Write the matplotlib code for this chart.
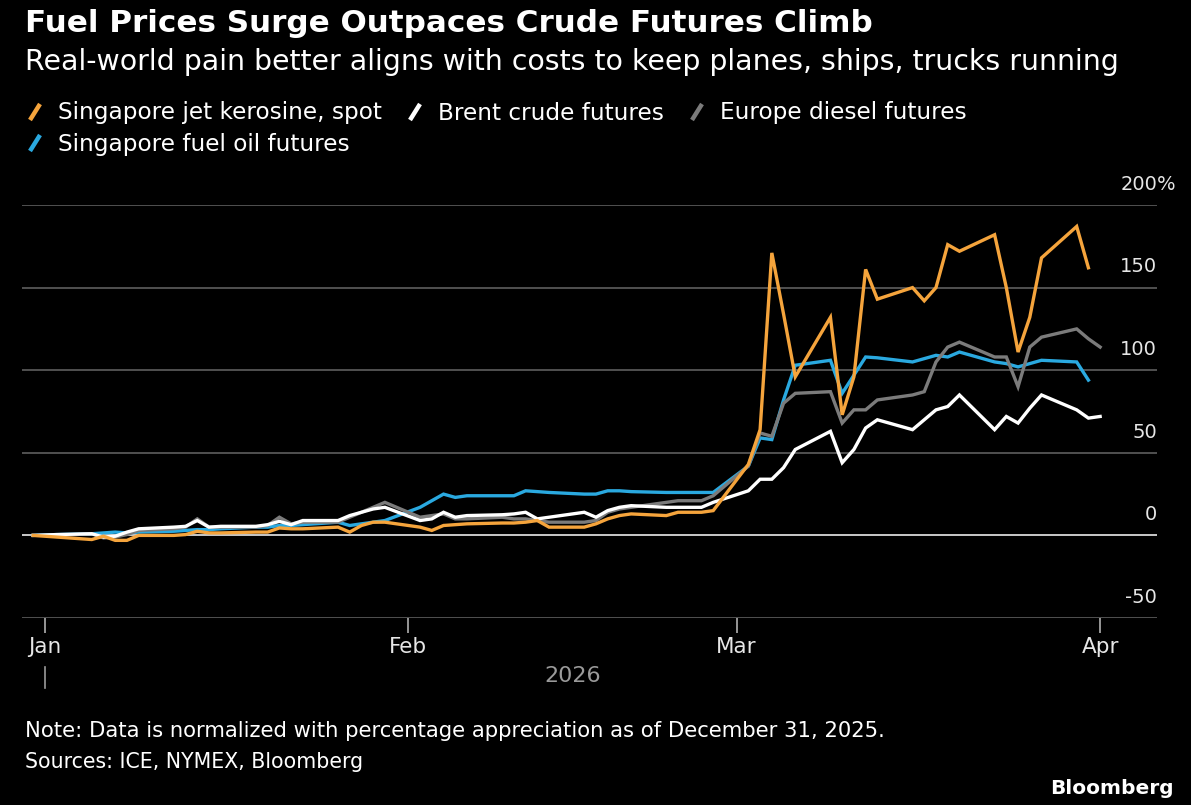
import numpy as np
import pandas as pd
import matplotlib
matplotlib.use("Agg")
import matplotlib.pyplot as plt
import matplotlib.dates as mdates
from matplotlib.lines import Line2D

#%% data (percent change since Dec 31, 2025)

dates = pd.bdate_range("2025-12-31", "2026-04-01")
dates = dates[dates != pd.Timestamp("2026-01-01")]

jet_jan = [-1, -2.5, -0.5, -3, -3, 0, 0, 0.5, 2.5, 1.5, 1.5, 2, 2, 4.5, 4, 4, 5, 2, 6, 8, 8]
jet_feb = [5, 3, 6, 6.5, 7, 7.5, 7.5, 8, 9, 5, 5, 7, 10, 12, 13, 12, 14, 14, 14, 15]
jet_mar = [43, 64, 171, 134, 96, 132, 73, 96, 161, 143, 150, 142, 150, 176, 172,
           182, 150, 111, 132, 168, 187, 162]
jet = [0] + jet_jan + jet_feb + jet_mar + [np.nan]

brent_jan = [0.5, 1, -1, -0.5, 2, 4, 5, 5.5, 9, 5, 5.5, 5.5, 6.5, 8.5, 6.5, 9, 9, 12, 14, 16, 17]
brent_feb = [9, 10, 14, 11, 12, 12.5, 13, 14, 10, 11, 14, 11, 15, 17, 18, 17, 17, 17, 17, 20]
brent_mar = [27, 34, 34, 41, 52, 63, 44, 52, 65, 70, 64, 70, 76, 78, 85,
             64, 72, 68, 77, 85, 76, 71]
brent = [0] + brent_jan + brent_feb + brent_mar + [72]

diesel_jan = [0, 1, -1.5, -1, 0.5, 3, 4, 5, 10, 5, 5, 5, 6, 11, 7, 8, 8, 11, 14, 17, 20]
diesel_feb = [11, 12, 13, 10, 10, 11, 10, 10, 9, 8, 8, 9, 14, 16, 17, 20, 21, 21, 21, 24]
diesel_mar = [42, 62, 60, 80, 86, 87, 68, 76, 76, 82, 85, 87, 105, 114, 117,
              108, 108, 90, 114, 120, 125, 119]
diesel = [0] + diesel_jan + diesel_feb + diesel_mar + [114]

fuel_jan = [0.5, 1, 1.5, 2, 1.5, 2, 2.5, 3, 3.5, 3.5, 4, 5, 5, 6, 6, 6.5, 8, 6, 7, 8, 9]
fuel_feb = [17, 21, 25, 23, 24, 24, 24, 27, 26.5, 26, 25, 25, 27, 27, 26.5, 26, 26, 26, 26, 26]
fuel_mar = [42, 59, 58, 82, 103, 106, 86, 97, 108, 107.5, 105, 107, 109, 108, 111,
            105, 104, 102, 104, 106, 105, 94]
fuel = [0] + fuel_jan + fuel_feb + fuel_mar + [np.nan]

series_names = ["Singapore jet kerosine, spot", "Brent crude futures",
                "Europe diesel futures", "Singapore fuel oil futures"]
colors = ["#f5a43c", "#ffffff", "#7b7b7b", "#2aa9e0"]

y_ticks = [-50, 0, 50, 100, 150, 200]
month_ticks = ["2026-01-01", "2026-02-01", "2026-03-01", "2026-04-01"]
month_labels = ["Jan", "Feb", "Mar", "Apr"]

#%% figure

plt.rcParams["font.family"] = ["DejaVu Sans"]
fig = plt.figure(figsize=(11.91, 8.05), dpi=100, facecolor="black")
W, H = 1191, 805
ax = fig.add_axes([22 / W, 1 - 618 / H, (1157 - 22) / W, (618 - 205) / H])
ax.set_facecolor("black")

# gridlines
for v in y_ticks:
    if v == 0:
        ax.axhline(v, color="#d9d9d9", lw=1.3, zorder=1)
    else:
        ax.axhline(v, color="#575757", lw=1.3, zorder=1)

# lines (blue bottom, orange top)
ax.plot(dates, fuel, color=colors[3], lw=2.4, zorder=3, solid_joinstyle="miter")
ax.plot(dates, diesel, color=colors[2], lw=2.4, zorder=4, solid_joinstyle="miter")
ax.plot(dates, brent, color=colors[1], lw=2.4, zorder=5, solid_joinstyle="miter")
ax.plot(dates, jet, color=colors[0], lw=2.4, zorder=6, solid_joinstyle="miter")

ax.set_ylim(-50, 200)
ax.set_xlim(mdates.date2num(pd.Timestamp("2025-12-31")) - 0.95,
            mdates.date2num(pd.Timestamp("2026-04-01")) + 4.85)

for s in ax.spines.values():
    s.set_visible(False)
ax.set_yticks([])
ax.set_xticks([mdates.date2num(pd.Timestamp(d)) for d in month_ticks])
ax.set_xticklabels(month_labels)
ax.tick_params(axis="x", colors="#b0b0b0", length=11, width=1.2, pad=3,
               labelsize=15.5, labelcolor="#e6e6e6")

# y labels sitting above the gridlines, right side
for v in y_ticks:
    ax.annotate(str(v), xy=(1.0, v), xycoords=("axes fraction", "data"),
                xytext=(0, 8), textcoords="offset points", ha="right", va="bottom",
                color="#e6e6e6", fontsize=14)
ax.annotate("%", xy=(1.0, 200), xycoords=("axes fraction", "data"),
            xytext=(0, 8), textcoords="offset points", ha="left", va="bottom",
            color="#e6e6e6", fontsize=14)

# year label
fig.text(573 / W, 1 - 676 / H, "2026", color="#9a9a9a", fontsize=16, ha="center", va="center")
fig.add_artist(Line2D([45 / W, 45 / W], [1 - 667 / H, 1 - 688 / H], color="#9a9a9a", lw=1.2))

# titles
fig.text(25 / W, 1 - 23 / H, "Fuel Prices Surge Outpaces Crude Futures Climb",
         color="white", fontsize=22.3, fontweight="bold", ha="left", va="center")
fig.text(25 / W, 1 - 62 / H,
         "Real-world pain better aligns with costs to keep planes, ships, trucks running",
         color="white", fontsize=20.4, ha="left", va="center")

# legend
leg_pos = [(30, 112), (410, 112), (692, 112), (30, 143)]
for (lx, ly), name, c in zip(leg_pos, series_names, colors):
    fig.add_artist(Line2D([lx / W, (lx + 10) / W], [1 - (ly + 8) / H, 1 - (ly - 8) / H],
                          color=c, lw=3.2, solid_capstyle="butt"))
    fig.text((lx + 28) / W, 1 - (ly + 1) / H, name, color="white", fontsize=16.7,
             ha="left", va="center")

# footer
fig.text(25 / W, 1 - 731 / H,
         "Note: Data is normalized with percentage appreciation as of December 31, 2025.",
         color="white", fontsize=15.2, ha="left", va="center")
fig.text(25 / W, 1 - 762 / H, "Sources: ICE, NYMEX, Bloomberg",
         color="white", fontsize=14.8, ha="left", va="center")
fig.text(1174 / W, 1 - 788 / H, "Bloomberg", color="white", fontsize=14.5,
         fontweight="bold", ha="right", va="center")

fig.savefig("out.png", dpi=100, facecolor="black")
